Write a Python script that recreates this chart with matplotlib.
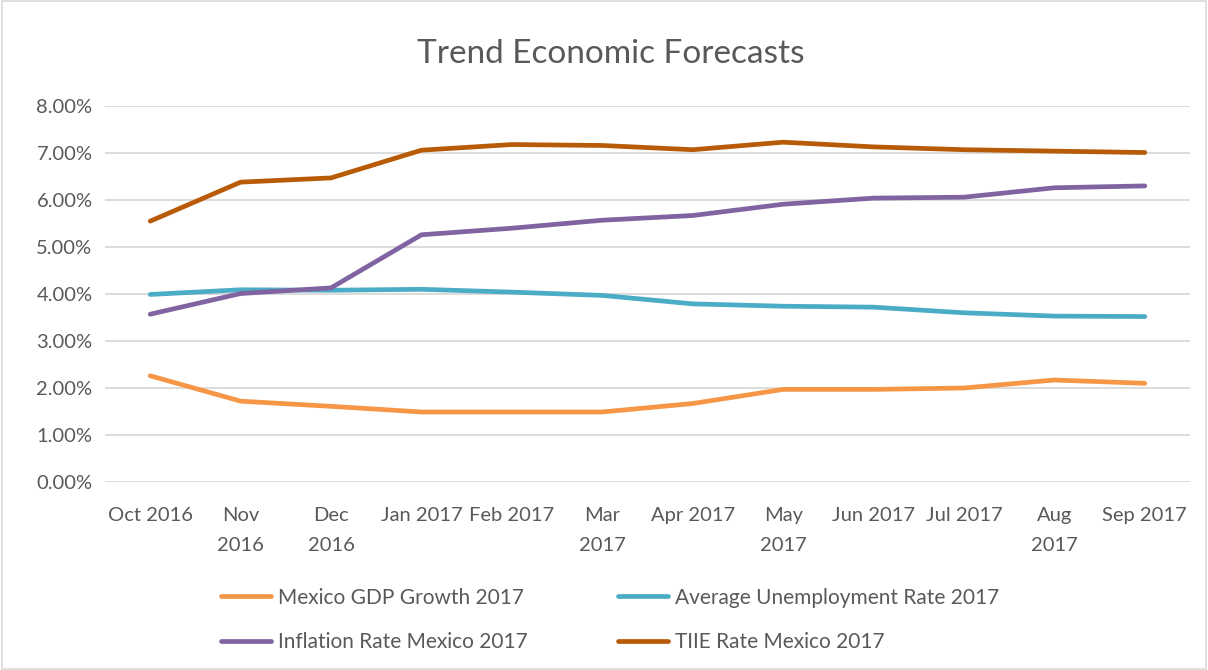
import matplotlib.pyplot as plt
from matplotlib.patches import Rectangle
from matplotlib.ticker import FuncFormatter

plt.rcParams['font.family'] = ['Lato', 'DejaVu Sans']

# データ
months = ["Oct 2016", "Nov\n2016", "Dec\n2016", "Jan 2017", "Feb 2017", "Mar\n2017",
          "Apr 2017", "May\n2017", "Jun 2017", "Jul 2017", "Aug\n2017", "Sep 2017"]
gdp = [2.26, 1.72, 1.61, 1.49, 1.49, 1.49, 1.67, 1.97, 1.97, 2.00, 2.17, 2.10]
unemployment = [3.99, 4.09, 4.08, 4.10, 4.04, 3.97, 3.79, 3.74, 3.72, 3.60, 3.53, 3.52]
inflation = [3.57, 4.01, 4.13, 5.26, 5.40, 5.57, 5.67, 5.91, 6.04, 6.06, 6.26, 6.30]
tiie = [5.55, 6.38, 6.47, 7.06, 7.18, 7.16, 7.07, 7.23, 7.13, 7.07, 7.04, 7.01]

series = [
    ("Mexico GDP Growth 2017", gdp, "#F79646"),
    ("Average Unemployment Rate 2017", unemployment, "#4BACC6"),
    ("Inflation Rate Mexico 2017", inflation, "#8064A2"),
    ("TIIE Rate Mexico 2017", tiie, "#B85B07"),
]

fig = plt.figure(figsize=(12.08, 6.70), dpi=100)
fig.patches.append(Rectangle((0.002, 0.002), 0.996, 0.996, transform=fig.transFigure,
                             fill=False, edgecolor="#D9D9D9", lw=1.2))
ax = fig.add_axes([105 / 1208, 1 - 482 / 670, 1085 / 1208, 376 / 670])

x = list(range(len(months)))
lines = []
for name, vals, col in series:
    ln, = ax.plot(x, vals, color=col, lw=3.4, solid_capstyle="round", solid_joinstyle="round", label=name)
    lines.append(ln)

ax.set_xlim(-0.5, len(months) - 0.5)
ax.set_ylim(0, 8)
ax.set_yticks(range(0, 9))
ax.yaxis.set_major_formatter(FuncFormatter(lambda v, p: f"{v:.2f}%"))
ax.set_xticks(x)
ax.set_xticklabels(months, linespacing=1.9, va="top")
ax.grid(axis="y", color="#D9D9D9", lw=1.3)
ax.set_axisbelow(True)
for s in ax.spines.values():
    s.set_visible(False)
ax.tick_params(axis="both", length=0, labelsize=14.5, labelcolor="#595959")
ax.tick_params(axis="x", pad=18)
ax.tick_params(axis="y", pad=9)

fig.text(0.506, 1 - 54 / 670, "Trend Economic Forecasts", ha="center", va="center",
         fontsize=24, color="#595959")

# 行優先の並びにする
order = [0, 2, 1, 3]
leg = fig.legend([lines[i] for i in order], [series[i][0] for i in order],
                 loc="center", bbox_to_anchor=(0.505, 1 - 620 / 670), ncol=2, frameon=False,
                 fontsize=15, handlelength=2.4, handletextpad=0.35, columnspacing=4.3,
                 labelspacing=1.2)
for t in leg.get_texts():
    t.set_color("#595959")

fig.savefig("out.png", dpi=100)
